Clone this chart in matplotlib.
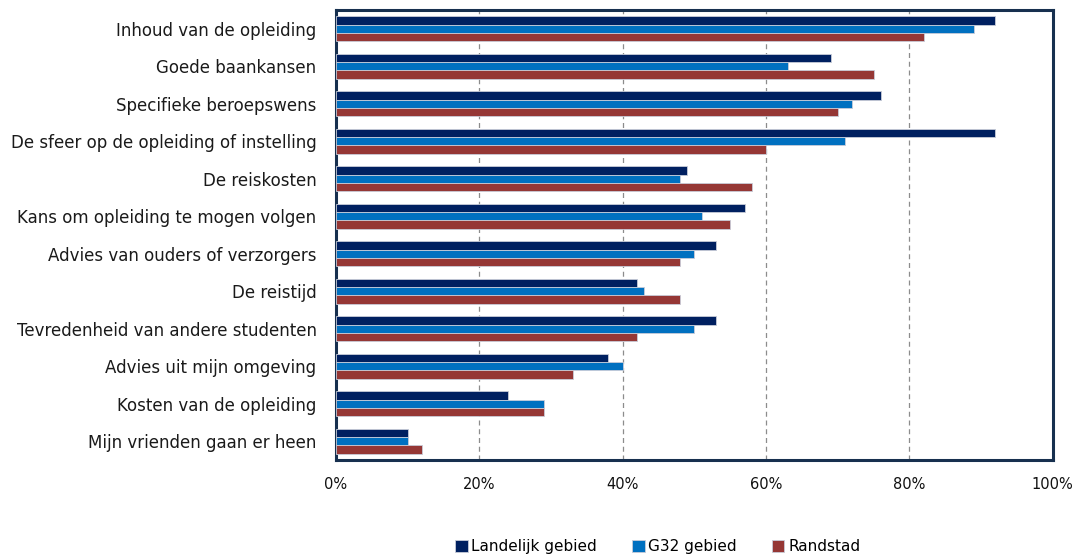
import numpy as np
import matplotlib
matplotlib.use("Agg")
import matplotlib.pyplot as plt
from matplotlib.ticker import PercentFormatter

# ---------------------------------------------------------
# Data (percent)
# ---------------------------------------------------------
categories = [
    "Inhoud van de opleiding",
    "Goede baankansen",
    "Specifieke beroepswens",
    "De sfeer op de opleiding of instelling",
    "De reiskosten",
    "Kans om opleiding te mogen volgen",
    "Advies van ouders of verzorgers",
    "De reistijd",
    "Tevredenheid van andere studenten",
    "Advies uit mijn omgeving",
    "Kosten van de opleiding",
    "Mijn vrienden gaan er heen",
]
landelijk = [92, 69, 76, 92, 49, 57, 53, 42, 53, 38, 24, 10]
g32 = [89, 63, 72, 71, 48, 51, 50, 43, 50, 40, 29, 10]
randstad = [82, 75, 70, 60, 58, 55, 48, 48, 42, 33, 29, 12]

series_names = ["Landelijk gebied", "G32 gebied", "Randstad"]
colors = ["#002060", "#0070C0", "#953735"]

# ---------------------------------------------------------
# Plot
# ---------------------------------------------------------
plt.rcParams["font.family"] = ["DejaVu Sans"]

fig = plt.figure(figsize=(10.82, 5.59), dpi=100)
ax = fig.add_axes([0.3105, 0.177, 0.6625, 0.805])

y = np.arange(len(categories))
h = 0.22
for i, (vals, name, c) in enumerate(zip([landelijk, g32, randstad], series_names, colors)):
    ax.barh(y + (i - 1) * h, vals, height=h, color=c, label=name,
            edgecolor="#c8ccd8", linewidth=0.6, zorder=3)

ax.set_xlim(0, 100)
ax.set_ylim(len(categories) - 0.5, -0.5)
ax.set_xticks(np.arange(0, 101, 20))
ax.xaxis.set_major_formatter(PercentFormatter(decimals=0))
ax.set_yticks(y)
ax.set_yticklabels(categories, fontsize=12, color="#1a1a1a")
ax.tick_params(axis="x", labelsize=10.5, length=0, pad=12, labelcolor="#111111")
ax.tick_params(axis="y", length=0, pad=14)

ax.grid(axis="x", linestyle=(0, (4, 3)), color="#8c8c8c", linewidth=0.9, zorder=0)
for s in ax.spines.values():
    s.set_color("#17304f")
    s.set_linewidth(2.2)

ax.legend(loc="upper center", bbox_to_anchor=(0.449, -0.145), ncol=3, frameon=False,
          fontsize=11, handlelength=0.8, handleheight=0.8, handletextpad=0.25,
          columnspacing=2.3)

fig.savefig("out.png", dpi=100)
